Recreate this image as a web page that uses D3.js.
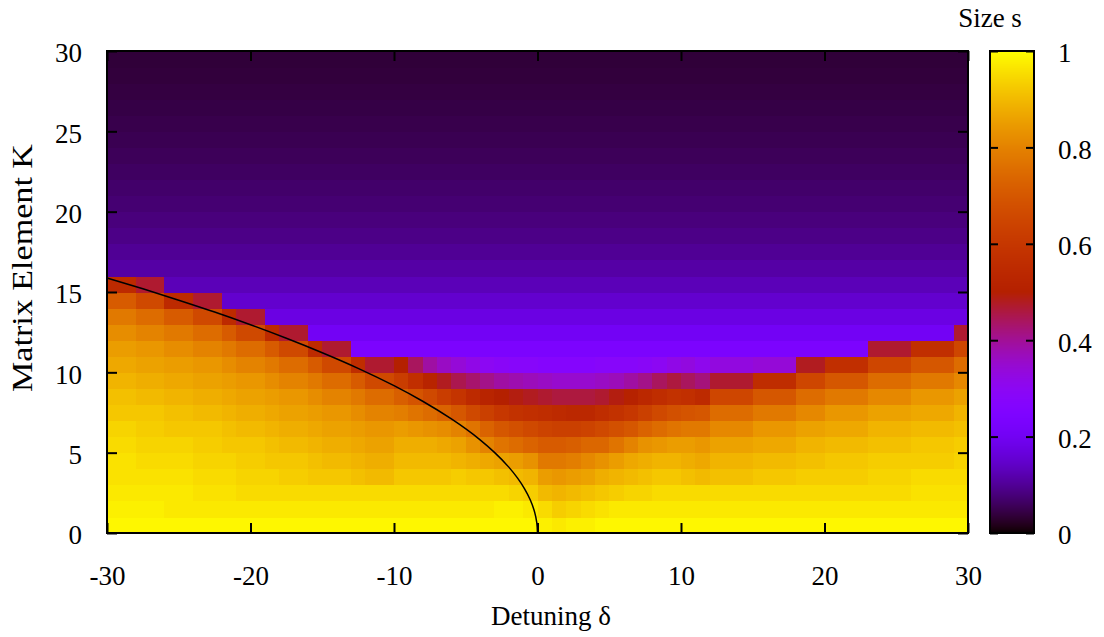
<!DOCTYPE html>
<html><head><meta charset="utf-8">
<script src="https://cdn.jsdelivr.net/npm/d3@7"></script>
<style>body{margin:0;background:#fff}text{font-family:"Liberation Serif","Times New Roman",serif;fill:#000}</style>
</head><body>
<svg id="chart" width="1104" height="637"></svg>
<script>
// ---------- data ----------
// column centres of the map (detuning delta)
const deltaCenters = [-29.5,-28.5,-27.5,-26.5,-25.5,-24.5,-23.5,-22.5,-21.5,-20.5,-19.5,-18.5,-17.5,-16.5,-15.5,-14.5,-13.5,-12.5,-11.5,-10.5,
  -9.5,-8.5,-7.5,-6.5,-5.5,-4.5,-3.5,-2.5,-1.5,-0.5,0.5,1.5,2.5,3.5,4.5,5.5,6.5,7.5,8.5,9.5,
  10.5,11.5,12.5,13.5,14.5,15.5,16.5,17.5,18.5,19.5,20.5,21.5,22.5,23.5,24.5,25.5,26.5,27.5,28.5,29.5];
// row centres of the map (matrix element K)
const kCenters = [0.5,1.5,2.5,3.5,4.5,5.5,6.5,7.5,8.5,9.5,10.5,11.5,12.5,13.5,14.5,15.5,16.5,17.5,18.5,19.5,
  20.5,21.5,22.5,23.5,24.5,25.5,26.5,27.5,28.5,29.5];
// size s (in %) of the lower (bright) part of every column, from K row 0 upward
const lowerS = [
  [99,98,97,96,96,95,94,92,91,89,87,85,82,78,71,55],
  [99,98,97,96,96,95,94,92,91,89,87,85,82,78,71,55],
  [99,98,97,96,95,94,93,92,90,88,86,84,80,75,66,47],
  [99,98,97,96,95,94,93,92,90,88,86,84,80,75,66,47],
  [99,97,97,96,95,94,92,91,89,87,85,82,78,71,55],
  [99,97,97,96,95,94,92,91,89,87,85,82,78,71,55],
  [99,97,96,95,94,93,92,90,88,86,84,80,75,66,47],
  [99,97,96,95,94,93,92,90,88,86,84,80,75,66,47],
  [99,97,96,95,94,92,91,89,87,85,82,78,71,55],
  [99,97,95,94,93,92,90,88,86,84,80,75,66,47],
  [99,97,95,94,93,92,90,88,86,84,80,75,66,47],
  [99,97,95,94,92,91,89,87,85,82,78,71,55],
  [99,97,95,93,92,90,88,86,84,80,75,66,47],
  [99,97,95,93,92,90,88,86,84,80,75,66,47],
  [99,97,95,92,91,89,87,85,82,78,71,55],
  [99,97,95,92,90,88,86,84,80,75,66,47],
  [99,97,95,92,90,88,86,84,80,75,66,47],
  [99,97,95,91,89,87,85,82,78,71,56],
  [99,97,95,90,88,86,84,80,75,66,47],
  [99,97,95,90,88,86,84,80,75,66,47],
  [99,97,95,92,90,88,85,79,72,62,50],
  [99,97,95,92,90,88,84,77,69,57,44],
  [99,97,95,92,90,88,83,75,66,52,39],
  [99,97,95,92,90,87,82,73,62,48,36],
  [99,97,95,93,89,86,80,70,59,45,34],
  [99,97,95,92,88,83,77,66,55,43,32],
  [99,97,95,92,87,80,73,63,52,41,30],
  [99,98,95,91,86,77,70,60,50,39,29],
  [99,98,94,90,85,75,68,58,49,38,28],
  [99,97,93,89,83,73,66,57,48,37,28],
  [98,95,90,85,78,71,64,56,47,36,27],
  [97,93,89,84,78,71,63,55,46,35,27],
  [98,94,90,85,79,72,63,54,46,35,27],
  [98,95,91,86,81,74,64,54,46,35,27],
  [99,96,92,88,83,74,66,56,47,36,28],
  [99,97,93,89,85,77,68,58,49,37,28],
  [99,97,94,90,87,80,70,60,51,39,28],
  [99,97,94,91,88,83,73,63,54,41,29],
  [99,97,95,92,89,84,75,66,56,44,30],
  [99,97,95,92,89,85,77,68,58,46,32],
  [99,97,95,91,88,85,78,69,57,44,33],
  [99,97,95,90,87,84,78,70,55,42,31],
  [99,97,95,91,89,86,81,75,65,47,33],
  [99,97,95,91,89,86,81,75,65,47,33],
  [99,97,95,91,89,86,81,75,65,47,33],
  [99,97,95,92,90,87,84,78,70,56,34],
  [99,97,95,92,90,87,84,78,70,56,34],
  [99,97,95,92,90,87,84,78,70,56,34],
  [99,97,95,93,91,89,86,81,75,65,48],
  [99,97,95,93,91,89,86,81,75,65,48],
  [99,97,95,93,92,90,87,84,78,70,57],
  [99,97,95,93,92,90,87,84,78,70,57],
  [99,97,95,93,92,90,87,84,78,70,57],
  [99,97,95,94,93,91,89,86,81,75,65,47],
  [99,97,95,94,93,91,89,86,81,75,65,47],
  [99,97,95,94,93,91,89,86,81,75,65,47],
  [99,97,96,95,93,92,90,87,84,78,70,57],
  [99,97,96,95,93,92,90,87,84,78,70,57],
  [99,97,96,95,93,92,90,87,84,78,70,57],
  [99,97,96,95,94,93,91,89,86,81,75,65,47]
];
// the dark upper region depends on K only: rows K = 10.5 ... 29.5
const upperS = [0.26,0.235,0.205,0.175,0.150,0.128,0.112,0.099,0.089,0.081,0.074,0.068,0.062,0.057,0.052,0.048,0.044,0.041,0.038,0.036];
const upperFirstRow = 10;
// black curve
const curveDelta = [-30,-27.5,-25,-22.5,-20,-17.5,-15,-12.5,-10,-8,-6,-4,-3,-2,-1.4,-0.9,-0.5,-0.2,-0.05,0];
const curveK     = [15.87,15.2,14.49,13.75,12.96,12.12,11.22,10.25,9.17,8.2,7.1,5.8,5.02,4.1,3.43,2.75,2.05,1.3,0.65,0];
// ticks
const xTicks = [-30,-20,-10,0,10,20,30];
const yTicks = [0,5,10,15,20,25,30];
const cbTicks = [0,0.2,0.4,0.6,0.8,1];
const cbTickLabels = ["0","0.2","0.4","0.6","0.8","1"];

// ---------- drawing ----------
const svg = d3.select("#chart");
const L = 107, R = 968, T = 51, B = 533;
const x = d3.scaleLinear().domain([-30,30]).range([L,R]);
const y = d3.scaleLinear().domain([0,30]).range([B,T]);
const cb = d3.scaleLinear().domain([0,1]).range([B,T]);
const CBL = 990, CBR = 1034;
const FS = 27;
const font = '"Liberation Serif","Times New Roman",serif';

function pal(v){ // gnuplot rgbformulae 7,5,15
  v = Math.max(0, Math.min(1, v));
  const r = Math.sqrt(v), g = v*v*v, b = Math.max(0, Math.sin(2*Math.PI*v));
  return d3.rgb(r*255, g*255, b*255).formatHex();
}
const fmt = v => String(v); // plain hyphen like the original

const cells = [];
deltaCenters.forEach((dc, i) => {
  kCenters.forEach((kc, k) => {
    const v = k < lowerS[i].length ? lowerS[i][k]/100 : upperS[k-upperFirstRow];
    cells.push({dc, kc, v});
  });
});
svg.append("g").attr("shape-rendering","crispEdges").selectAll("rect").data(cells).join("rect")
  .attr("x", d => x(d.dc-0.5)).attr("y", d => y(d.kc+0.5))
  .attr("width", d => x(d.dc+0.5)-x(d.dc-0.5)+0.6).attr("height", d => y(d.kc-0.5)-y(d.kc+0.5)+0.6)
  .attr("fill", d => pal(d.v));

// curve
const pts = curveDelta.map((d,i)=>[d, curveK[i]]);
svg.append("path").datum(pts)
  .attr("d", d3.line().x(d=>x(d[0])).y(d=>y(d[1])).curve(d3.curveMonotoneY))
  .attr("fill","none").attr("stroke","#000").attr("stroke-width",1.5);

// axes (inward ticks, mirrored)
function styleAxis(g){
  g.select(".domain").remove();
  g.selectAll(".tick line").attr("stroke","#000").attr("stroke-width",2);
  g.selectAll("text").attr("font-size",FS).attr("font-family",font);
}
svg.append("g").attr("transform",`translate(0,${B})`)
  .call(d3.axisBottom(x).tickValues(xTicks).tickSize(-10).tickPadding(33).tickFormat(fmt))
  .call(styleAxis);
svg.append("g").attr("transform",`translate(0,${T})`)
  .call(d3.axisTop(x).tickValues(xTicks).tickSize(-10).tickFormat(""))
  .call(styleAxis);
svg.append("g").attr("transform",`translate(${L},0)`)
  .call(d3.axisLeft(y).tickValues(yTicks).tickSize(-10).tickPadding(25).tickFormat(fmt))
  .call(styleAxis)
  .selectAll("text").attr("dy","0.4em");
svg.append("g").attr("transform",`translate(${R},0)`)
  .call(d3.axisRight(y).tickValues(yTicks).tickSize(-10).tickFormat(""))
  .call(styleAxis);
svg.append("rect").attr("x",L).attr("y",T).attr("width",R-L).attr("height",B-T)
  .attr("fill","none").attr("stroke","#000").attr("stroke-width",2);

// colour box
const cbRows = d3.range(T, B, 1);
svg.append("g").attr("shape-rendering","crispEdges").selectAll("rect").data(cbRows).join("rect")
  .attr("x",CBL).attr("width",CBR-CBL).attr("y",d=>d).attr("height",1.2)
  .attr("fill",d=>pal(cb.invert(d+0.5)));
svg.append("g").attr("transform",`translate(${CBL},0)`)
  .call(d3.axisRight(cb).tickValues(cbTicks).tickSize(8).tickFormat(""))
  .call(styleAxis);
svg.append("g").attr("transform",`translate(${CBR},0)`)
  .call(d3.axisLeft(cb).tickValues(cbTicks).tickSize(8).tickFormat(""))
  .call(styleAxis);
svg.append("g").attr("transform",`translate(${CBR},0)`)
  .call(d3.axisRight(cb).tickValues(cbTicks).tickSize(0).tickPadding(24).tickFormat((d,i)=>cbTickLabels[i]))
  .call(styleAxis)
  .selectAll("text").attr("dy","0.4em");
svg.append("rect").attr("x",CBL).attr("y",T).attr("width",CBR-CBL).attr("height",B-T)
  .attr("fill","none").attr("stroke","#000").attr("stroke-width",2);

// labels
svg.append("text").attr("x",551).attr("y",625).attr("text-anchor","middle").attr("font-size",FS).attr("font-family",font).text("Detuning δ");
svg.append("text").attr("transform","translate(32,268) rotate(-90)").attr("text-anchor","middle")
  .attr("font-size",29).attr("font-family",font)
  .attr("textLength",248).attr("lengthAdjust","spacingAndGlyphs").text("Matrix Element K");
svg.append("text").attr("x",990).attr("y",27).attr("text-anchor","middle").attr("font-size",FS).attr("font-family",font).text("Size s");
</script>
</body></html>
